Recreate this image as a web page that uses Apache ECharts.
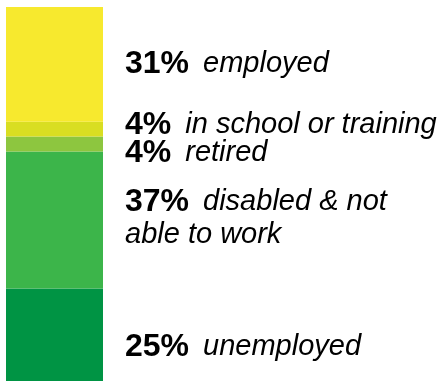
<!DOCTYPE html>
<html>
<head>
<meta charset="utf-8">
<script src="https://cdn.jsdelivr.net/npm/echarts@6/dist/echarts.min.js"></script>
<style>
  html, body { margin: 0; padding: 0; background: #fff; }
  #chart { width: 442px; height: 381px; }
</style>
</head>
<body>
<div id="chart"></div>
<script>
// Status breakdown, stacked from the bottom of the bar upward
const categories = ['all'];
const statusNames = ['unemployed', 'disabled & not\nable to work', 'retired', 'in school or training', 'employed'];
const statusValues = [25, 37, 4, 4, 31];
const statusColors = ['#009444', '#3cb54a', '#8dc63f', '#d9de22', '#f7e92e'];
// vertical nudges so each caption sits where it reads best beside its block
const labelOffsets = [[0, 12], [0, -1], [0, 9], [0, -4], [0, 0]];

const total = statusValues.reduce((a, b) => a + b, 0);

const series = statusValues.map((v, i) => ({
  name: statusNames[i],
  type: 'bar',
  stack: 'status',
  data: [v],
  barWidth: '100%',
  itemStyle: { color: statusColors[i] },
  label: {
    show: true,
    position: 'right',
    distance: 22,
    offset: labelOffsets[i],
    formatter: () => {
      const lines = statusNames[i].split('\n');
      return lines.map((t, k) => (k === 0 ? `{n|${v}%}{t|${t}}` : `{t|${t}}`)).join('\n');
    },
    rich: {
      n: { fontFamily: 'Liberation Sans', fontWeight: 'bold', fontSize: 32, color: '#000', lineHeight: 33, padding: [0, 14, 0, 0] },
      t: { fontFamily: 'Liberation Sans', fontStyle: 'italic', fontSize: 29, color: '#000', lineHeight: 33 }
    }
  },
  emphasis: { disabled: true }
}));

const chart = echarts.init(document.getElementById('chart'), null, { renderer: 'canvas' });
chart.setOption({
  animation: false,
  grid: { left: 6, right: 339, top: 7, bottom: 0 },
  xAxis: { type: 'category', data: categories, show: false },
  yAxis: { type: 'value', min: 0, max: total, show: false },
  series
});
</script>
</body>
</html>
